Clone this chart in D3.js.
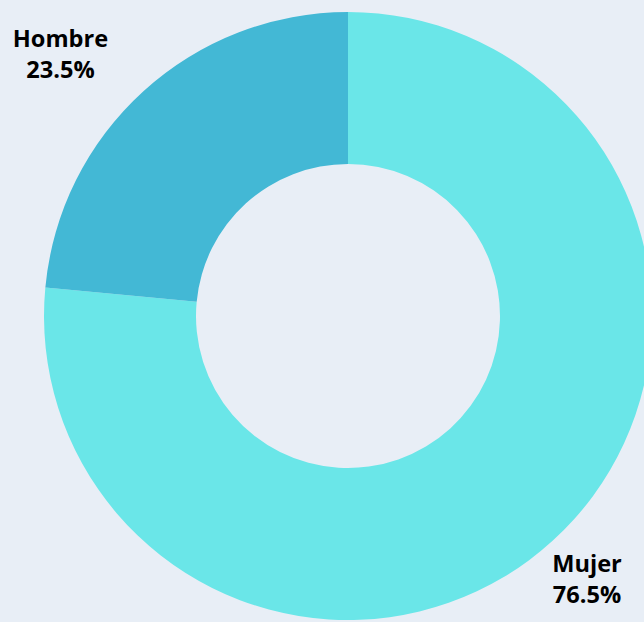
<!DOCTYPE html>
<html>
<head>
<meta charset="utf-8">
<script src="https://cdn.jsdelivr.net/npm/d3@7"></script>
<style>
  body { margin: 0; background: #e8eef6; }
  svg { display: block; }
</style>
</head>
<body>
<svg width="644" height="622"></svg>
<script>
// data
var categories = ["Mujer", "Hombre"]
var values = [76.5, 23.5]
var colors = ["#6ae6e8", "#43b8d5"]

var svg = d3.select("svg"),
    width = +svg.attr("width"),
    height = +svg.attr("height");

svg.append("rect")
  .attr("width", width)
  .attr("height", height)
  .attr("fill", "#e8eef6")

var cx = 348, cy = 316
var outerR = 304, innerR = 152

var data = categories.map(function(c, i){ return {name: c, value: values[i], color: colors[i]} })

var pie = d3.pie()
  .sort(null)
  .value(function(d){ return d.value })

var arc = d3.arc()
  .innerRadius(innerR)
  .outerRadius(outerR)

var g = svg.append("g")
  .attr("transform", "translate(" + cx + "," + cy + ")")

g.selectAll("path")
  .data(pie(data))
  .enter()
  .append("path")
    .attr("d", arc)
    .attr("fill", function(d){ return d.data.color })

// labels placed outside the ring
var labelPos = {
  "Mujer": [587, 572],
  "Hombre": [60.5, 47]
}

var fmt = d3.format(".1f")

data.forEach(function(d){
  var p = labelPos[d.name]
  var t = svg.append("text")
    .attr("text-anchor", "middle")
    .attr("x", p[0])
    .attr("y", p[1])
    .style("font-family", "'Open Sans', sans-serif")
    .style("font-weight", "bold")
    .style("font-size", "23.6px")
    .style("fill", "#000")
  t.append("tspan").attr("x", p[0]).text(d.name)
  t.append("tspan").attr("x", p[0]).attr("dy", 31).text(fmt(d.value) + "%")
})
</script>
</body>
</html>
